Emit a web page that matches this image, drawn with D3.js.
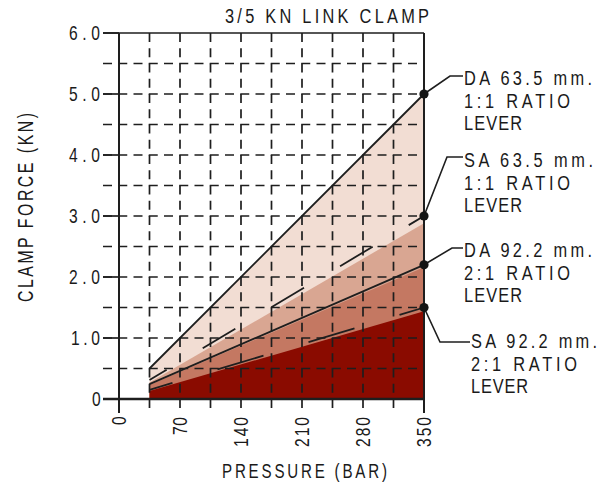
<!DOCTYPE html>
<html>
<head>
<meta charset="utf-8">
<script src="https://cdn.jsdelivr.net/npm/d3@7"></script>
<style>
  html, body { margin: 0; padding: 0; background: #fff; }
  svg { display: block; }
  text { font-family: "Liberation Sans", Arial, sans-serif; fill: #1a1a1a; }
</style>
</head>
<body>
<svg id="chart" width="608" height="486"></svg>
<script>
// ---------------- data ----------------
const title = "3/5 KN LINK CLAMP";
const xTitle = "PRESSURE (BAR)";
const yTitle = "CLAMP FORCE (KN)";
const pressure = [35, 350];                    // bar
const seriesNames = ["DA 63.5 mm.", "SA 63.5 mm.", "DA 92.2 mm.", "SA 92.2 mm."];
const ratioNames = ["1:1 RATIO", "1:1 RATIO", "2:1 RATIO", "2:1 RATIO"];
const leverName = "LEVER";
// lines (kN at 35 and 350 bar)
const lineDA635 = [0.5, 5.0];
const lineSA635 = [0.31, 3.0];
const lineDA922 = [0.245, 2.2];
const lineSA922 = [0.15, 1.5];
// coloured bands (top edge, kN at 35 and 350 bar)
const fillDA635 = [0.5, 5.0];
const fillSA635 = [0.27, 2.88];
const fillDA922 = [0.23, 2.16];
const fillSA922 = [0.13, 1.44];
const xTicks = [0, 70, 140, 210, 280, 350];
const xGrid = [35, 70, 105, 140, 175, 210, 245, 280, 315];
const yTicks = [0, 1, 2, 3, 4, 5, 6];
const yTickLabels = ["0", "1.0", "2.0", "3.0", "4.0", "5.0", "6.0"];
const yGrid = [0.5, 1, 1.5, 2, 2.5, 3, 3.5, 4, 4.5, 5, 5.5];

// ---------------- layout ----------------
const svg = d3.select("#chart");
const x = d3.scaleLinear().domain([0, 350]).range([119, 424]);
const y = d3.scaleLinear().domain([0, 6]).range([399, 33]);
const ink = "#1e1e1e";
const fillColors = ["#f2ddd3", "#d9a692", "#c47862", "#8a0b00"];
const lineStyles = [
  { dash: null, off: 0 },
  { dash: "38,42", off: 18 },
  { dash: null, off: 0 },
  { dash: "48,47", off: 24 }
];
const lines = [lineDA635, lineSA635, lineDA922, lineSA922];
const fills = [fillDA635, fillSA635, fillDA922, fillSA922];

const area = d3.area().x(d => x(d[0])).y0(y(0)).y1(d => y(d[1]));
const line = d3.line().x(d => x(d[0])).y(d => y(d[1]));
const pts = vals => pressure.map((p, i) => [p, vals[i]]);

// narrow drafting-style text: horizontally condensed glyphs, spread to a given width
function label(g, str, x0, y0, size, width, rot, sx) {
  sx = sx || 0.78;
  const t = rot ? `translate(${x0},${y0}) rotate(${rot}) scale(${sx},1)` : `translate(${x0},${y0}) scale(${sx},1)`;
  return g.append("text").attr("transform", t)
    .attr("font-size", size)
    .attr("textLength", width / sx).attr("lengthAdjust", "spacing")
    .text(str);
}

// fills
const gFill = svg.append("g");
fills.forEach((f, i) => {
  gFill.append("path").attr("d", area(pts(f))).attr("fill", fillColors[i]);
});

// grid
const gGrid = svg.append("g").attr("stroke", ink).attr("stroke-width", 1.7).attr("fill", "none");
const xLeft = 103, yBottom = 413;
yGrid.forEach(v => {
  gGrid.append("line").attr("x1", xLeft).attr("x2", x(350)).attr("y1", y(v)).attr("y2", y(v))
    .attr("stroke-dasharray", "9,6.25");
});
xGrid.forEach(v => {
  gGrid.append("line").attr("x1", x(v)).attr("x2", x(v)).attr("y1", y(6)).attr("y2", yBottom)
    .attr("stroke-dasharray", "9,6.25");
});
yTicks.forEach(v => {
  gGrid.append("line").attr("x1", xLeft).attr("x2", x(0)).attr("y1", y(v)).attr("y2", y(v));
});
gGrid.append("line").attr("x1", xLeft).attr("x2", x(350)).attr("y1", y(6)).attr("y2", y(6));
gGrid.append("line").attr("x1", xLeft).attr("x2", x(350)).attr("y1", y(0)).attr("y2", y(0)).attr("stroke-width", 2.6);
gGrid.append("line").attr("x1", x(0)).attr("x2", x(0)).attr("y1", y(6)).attr("y2", yBottom).attr("stroke-width", 2);
gGrid.append("line").attr("x1", x(350)).attr("x2", x(350)).attr("y1", y(6)).attr("y2", yBottom).attr("stroke-width", 2);

// series lines
const gLines = svg.append("g").attr("fill", "none").attr("stroke", ink).attr("stroke-width", 1.8);
lines.forEach((l, i) => {
  const p = gLines.append("path").attr("d", line(pts(l)));
  if (lineStyles[i].dash) p.attr("stroke-dasharray", lineStyles[i].dash).attr("stroke-dashoffset", lineStyles[i].off);
});

// dots + leaders + labels
const labelTop = [70, 152, 242, 333];
const elbowY = [76, 157, 248, 342];
const elbowX = [450, 447, 452, 440];
const textX = [464, 464, 464, 471];
const rowWidths = [[128, 106, 58], [129, 106, 58], [128, 106, 58], [126, 106, 57]];
const gLab = svg.append("g");
lines.forEach((l, i) => {
  const cx = x(350), cy = y(l[1]);
  gLab.append("polyline")
    .attr("points", [[cx, cy], [elbowX[i], elbowY[i]], [textX[i] - 1, elbowY[i]]].map(d => d.join(",")).join(" "))
    .attr("fill", "none").attr("stroke", ink).attr("stroke-width", 1.6);
  gLab.append("circle").attr("cx", cx).attr("cy", cy).attr("r", 4.6).attr("fill", "#141414");
  const rows = [seriesNames[i], ratioNames[i], leverName];
  rows.forEach((r, k) => {
    label(gLab, r, textX[i], labelTop[i] + 15 + k * 22.5, 21, rowWidths[i][k]);
  });
});

// y tick labels (right edge at x=100)
yTicks.forEach((v, i) => {
  const s = yTickLabels[i];
  const w = s.length === 1 ? 8 : (s === "1.0" ? 29 : 31);
  label(svg, s, 100 - w, y(v) + 7, 20, w);
});
// x tick labels (rotated, top end at y=417)
xTicks.forEach(v => {
  const s = String(v);
  const w = s.length === 1 ? 8 : (s.length === 2 ? 18 : 30);
  label(svg, s, x(v) + 7, 417 + w, 20, w, -90);
});

// titles
label(svg, title, 225, 23, 21, 204);
label(svg, xTitle, 222, 478, 21, 165, 0, 0.72);
label(svg, yTitle, 33, 302, 22, 189, -90, 0.72);
</script>
</body>
</html>
